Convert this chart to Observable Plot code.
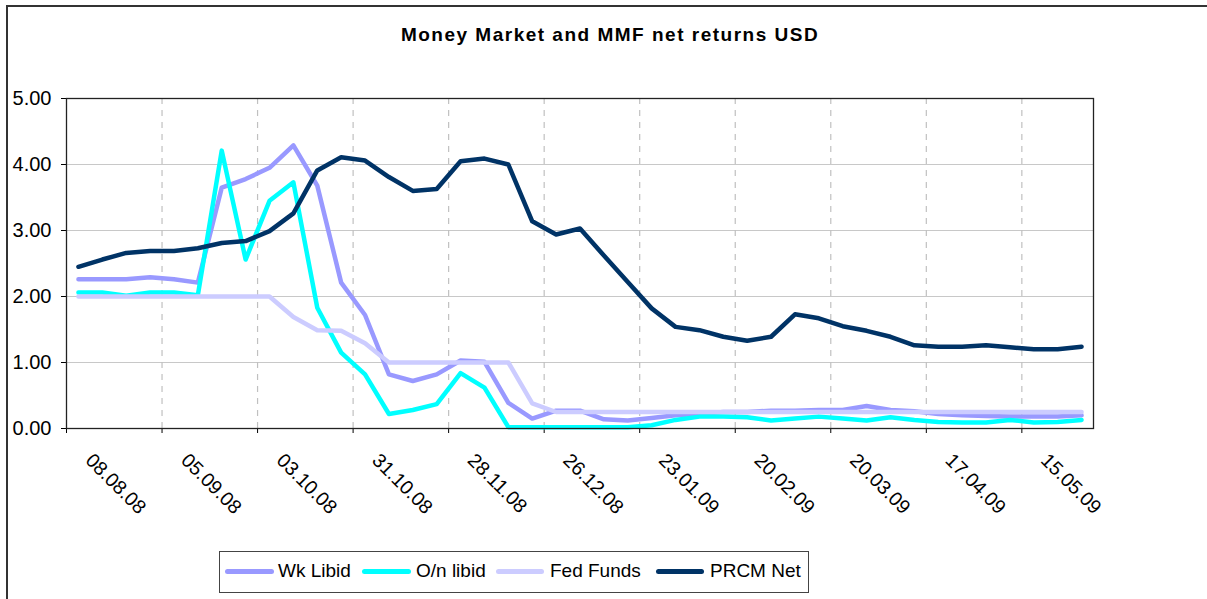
<!DOCTYPE html>
<html>
<head>
<meta charset="utf-8">
<script src="https://cdn.jsdelivr.net/npm/d3@7"></script>
<script src="https://cdn.jsdelivr.net/npm/@observablehq/plot@0.6"></script>
<style>
  html, body { margin: 0; padding: 0; background: #fff; overflow: hidden; }
  body { width: 1207px; height: 599px; position: relative; font-family: "Liberation Sans", Arial, sans-serif; }
  #frame { position: absolute; left: 6px; top: 5px; width: 1400px; height: 800px; border-left: 2px solid #333; border-top: 2px solid #333; box-sizing: border-box; }
  #title { position: absolute; left: 0; top: 24px; width: 1220px; text-align: center; font-weight: bold; font-size: 19px; color: #000; letter-spacing: 1.5px; }
  #chart { position: absolute; left: 0; top: 60px; }
  #legend { position: absolute; left: 219px; top: 551px; width: 590px; height: 42px; border: 1.5px solid #444; box-sizing: border-box; background: #fff; }
  .sw { position: absolute; height: 5px; border-radius: 3px; top: 17px; }
  .lt { position: absolute; top: 8px; font-size: 19px; color: #000; white-space: nowrap; }
</style>
</head>
<body>
<div id="frame"></div>
<div id="title">Money Market and MMF net returns USD</div>
<div id="chart"></div>
<div id="legend"></div>
<script>
// Weekly categories
const dates = ["08.08.08","15.08.08","22.08.08","29.08.08","05.09.08","12.09.08","19.09.08","26.09.08",
  "03.10.08","10.10.08","17.10.08","24.10.08","31.10.08","07.11.08","14.11.08","21.11.08",
  "28.11.08","05.12.08","12.12.08","19.12.08","26.12.08","02.01.09","09.01.09","16.01.09",
  "23.01.09","30.01.09","06.02.09","13.02.09","20.02.09","27.02.09","06.03.09","13.03.09",
  "20.03.09","27.03.09","03.04.09","10.04.09","17.04.09","24.04.09","01.05.09","08.05.09",
  "15.05.09","22.05.09","29.05.09"];

const tickLabels = ["08.08.08","05.09.08","03.10.08","31.10.08","28.11.08","26.12.08",
  "23.01.09","20.02.09","20.03.09","17.04.09","15.05.09"];

const yTicks = [0, 1, 2, 3, 4, 5];

const wkLibid = [2.26,2.26,2.26,2.29,2.26,2.21,3.65,3.78,3.95,4.29,3.68,2.21,1.72,0.82,0.72,0.82,
  1.03,1.01,0.39,0.15,0.27,0.27,0.14,0.12,0.16,0.20,0.22,0.25,0.25,0.27,0.27,0.28,0.28,0.34,
  0.28,0.26,0.22,0.20,0.19,0.18,0.18,0.18,0.20];

const onLibid = [2.06,2.06,2.01,2.06,2.06,2.02,4.21,2.56,3.45,3.73,1.83,1.15,0.82,0.22,0.28,0.37,
  0.84,0.62,0.02,0.02,0.02,0.02,0.02,0.02,0.05,0.13,0.18,0.18,0.17,0.12,0.15,0.18,0.15,0.12,
  0.17,0.13,0.10,0.09,0.09,0.13,0.09,0.10,0.13];

const fedFunds = [2.00,2.00,2.00,2.00,2.00,2.00,2.00,2.00,2.00,1.69,1.49,1.48,1.29,1.00,1.00,1.00,
  1.00,1.00,1.00,0.38,0.25,0.25,0.25,0.25,0.25,0.25,0.25,0.25,0.25,0.25,0.25,0.25,0.25,0.25,
  0.25,0.25,0.25,0.25,0.25,0.25,0.25,0.25,0.25];

const prcmNet = [2.45,2.56,2.66,2.69,2.69,2.73,2.81,2.84,2.99,3.26,3.91,4.11,4.06,3.81,3.60,3.63,
  4.05,4.09,4.00,3.14,2.94,3.03,2.62,2.22,1.82,1.54,1.49,1.39,1.33,1.39,1.73,1.67,1.55,1.48,
  1.39,1.26,1.24,1.24,1.26,1.23,1.20,1.20,1.24];

const seriesNames = ["Wk Libid", "O/n libid", "Fed Funds", "PRCM Net"];
const seriesValues = [wkLibid, onLibid, fedFunds, prcmNet];
const seriesColors = ["#9999FF", "#00FFFF", "#CCCCFF", "#003366"];

const rows = [];
seriesNames.forEach((name, s) => {
  dates.forEach((d, i) => rows.push({series: name, date: d, i, value: seriesValues[s][i]}));
});

const labelIdx = tickLabels.map(l => dates.indexOf(l));
const boundaries = labelIdx.map(i => i - 0.5);
const innerBoundaries = boundaries.filter(b => b > -0.5);

const chart = Plot.plot({
  width: 1207,
  height: 480,
  marginLeft: 66,
  marginRight: 114,
  marginTop: 38,
  marginBottom: 112,
  style: {fontFamily: "'Liberation Sans', Arial, sans-serif", fontSize: "20px", color: "#000", background: "transparent"},
  x: {domain: [-0.5, dates.length - 0.5], ticks: boundaries, tickFormat: () => "", tickSize: 5, label: null},
  y: {domain: [0, 5], ticks: yTicks, tickFormat: d => d.toFixed(2), tickSize: 5, tickPadding: 10, label: null},
  color: {domain: seriesNames, range: seriesColors},
  marks: [
    Plot.ruleY(yTicks.filter(t => t > 0 && t < 5), {stroke: "#c8c8c8", strokeWidth: 1.2}),
    Plot.ruleX(innerBoundaries, {stroke: "#c0c0c0", strokeWidth: 1.2, strokeDasharray: "6,6"}),
    ...seriesNames.map(name => Plot.line(rows.filter(r => r.series === name), {
      x: "i", y: "value", stroke: "series", strokeWidth: 4.5,
      strokeLinejoin: "round", strokeLinecap: "round"
    })),
    Plot.frame({stroke: "#222", strokeWidth: 1.3}),
    Plot.text(tickLabels, {
      x: d => dates.indexOf(d), frameAnchor: "bottom", text: d => d,
      rotate: 45, textAnchor: "start", dy: 33, dx: 6, fontSize: 19.5, fill: "#000"
    })
  ]
});
document.getElementById("chart").appendChild(chart);

// Legend
const legend = document.getElementById("legend");
const swLeft = [5, 142, 276, 436];
const swWidth = [49, 49, 48, 48];
const txtLeft = [58, 196, 330, 490];
seriesNames.forEach((name, k) => {
  const sw = document.createElement("div");
  sw.className = "sw";
  sw.style.left = swLeft[k] + "px";
  sw.style.width = swWidth[k] + "px";
  sw.style.background = seriesColors[k];
  legend.appendChild(sw);
  const t = document.createElement("div");
  t.className = "lt";
  t.style.left = txtLeft[k] + "px";
  t.textContent = name;
  legend.appendChild(t);
});
</script>
</body>
</html>
